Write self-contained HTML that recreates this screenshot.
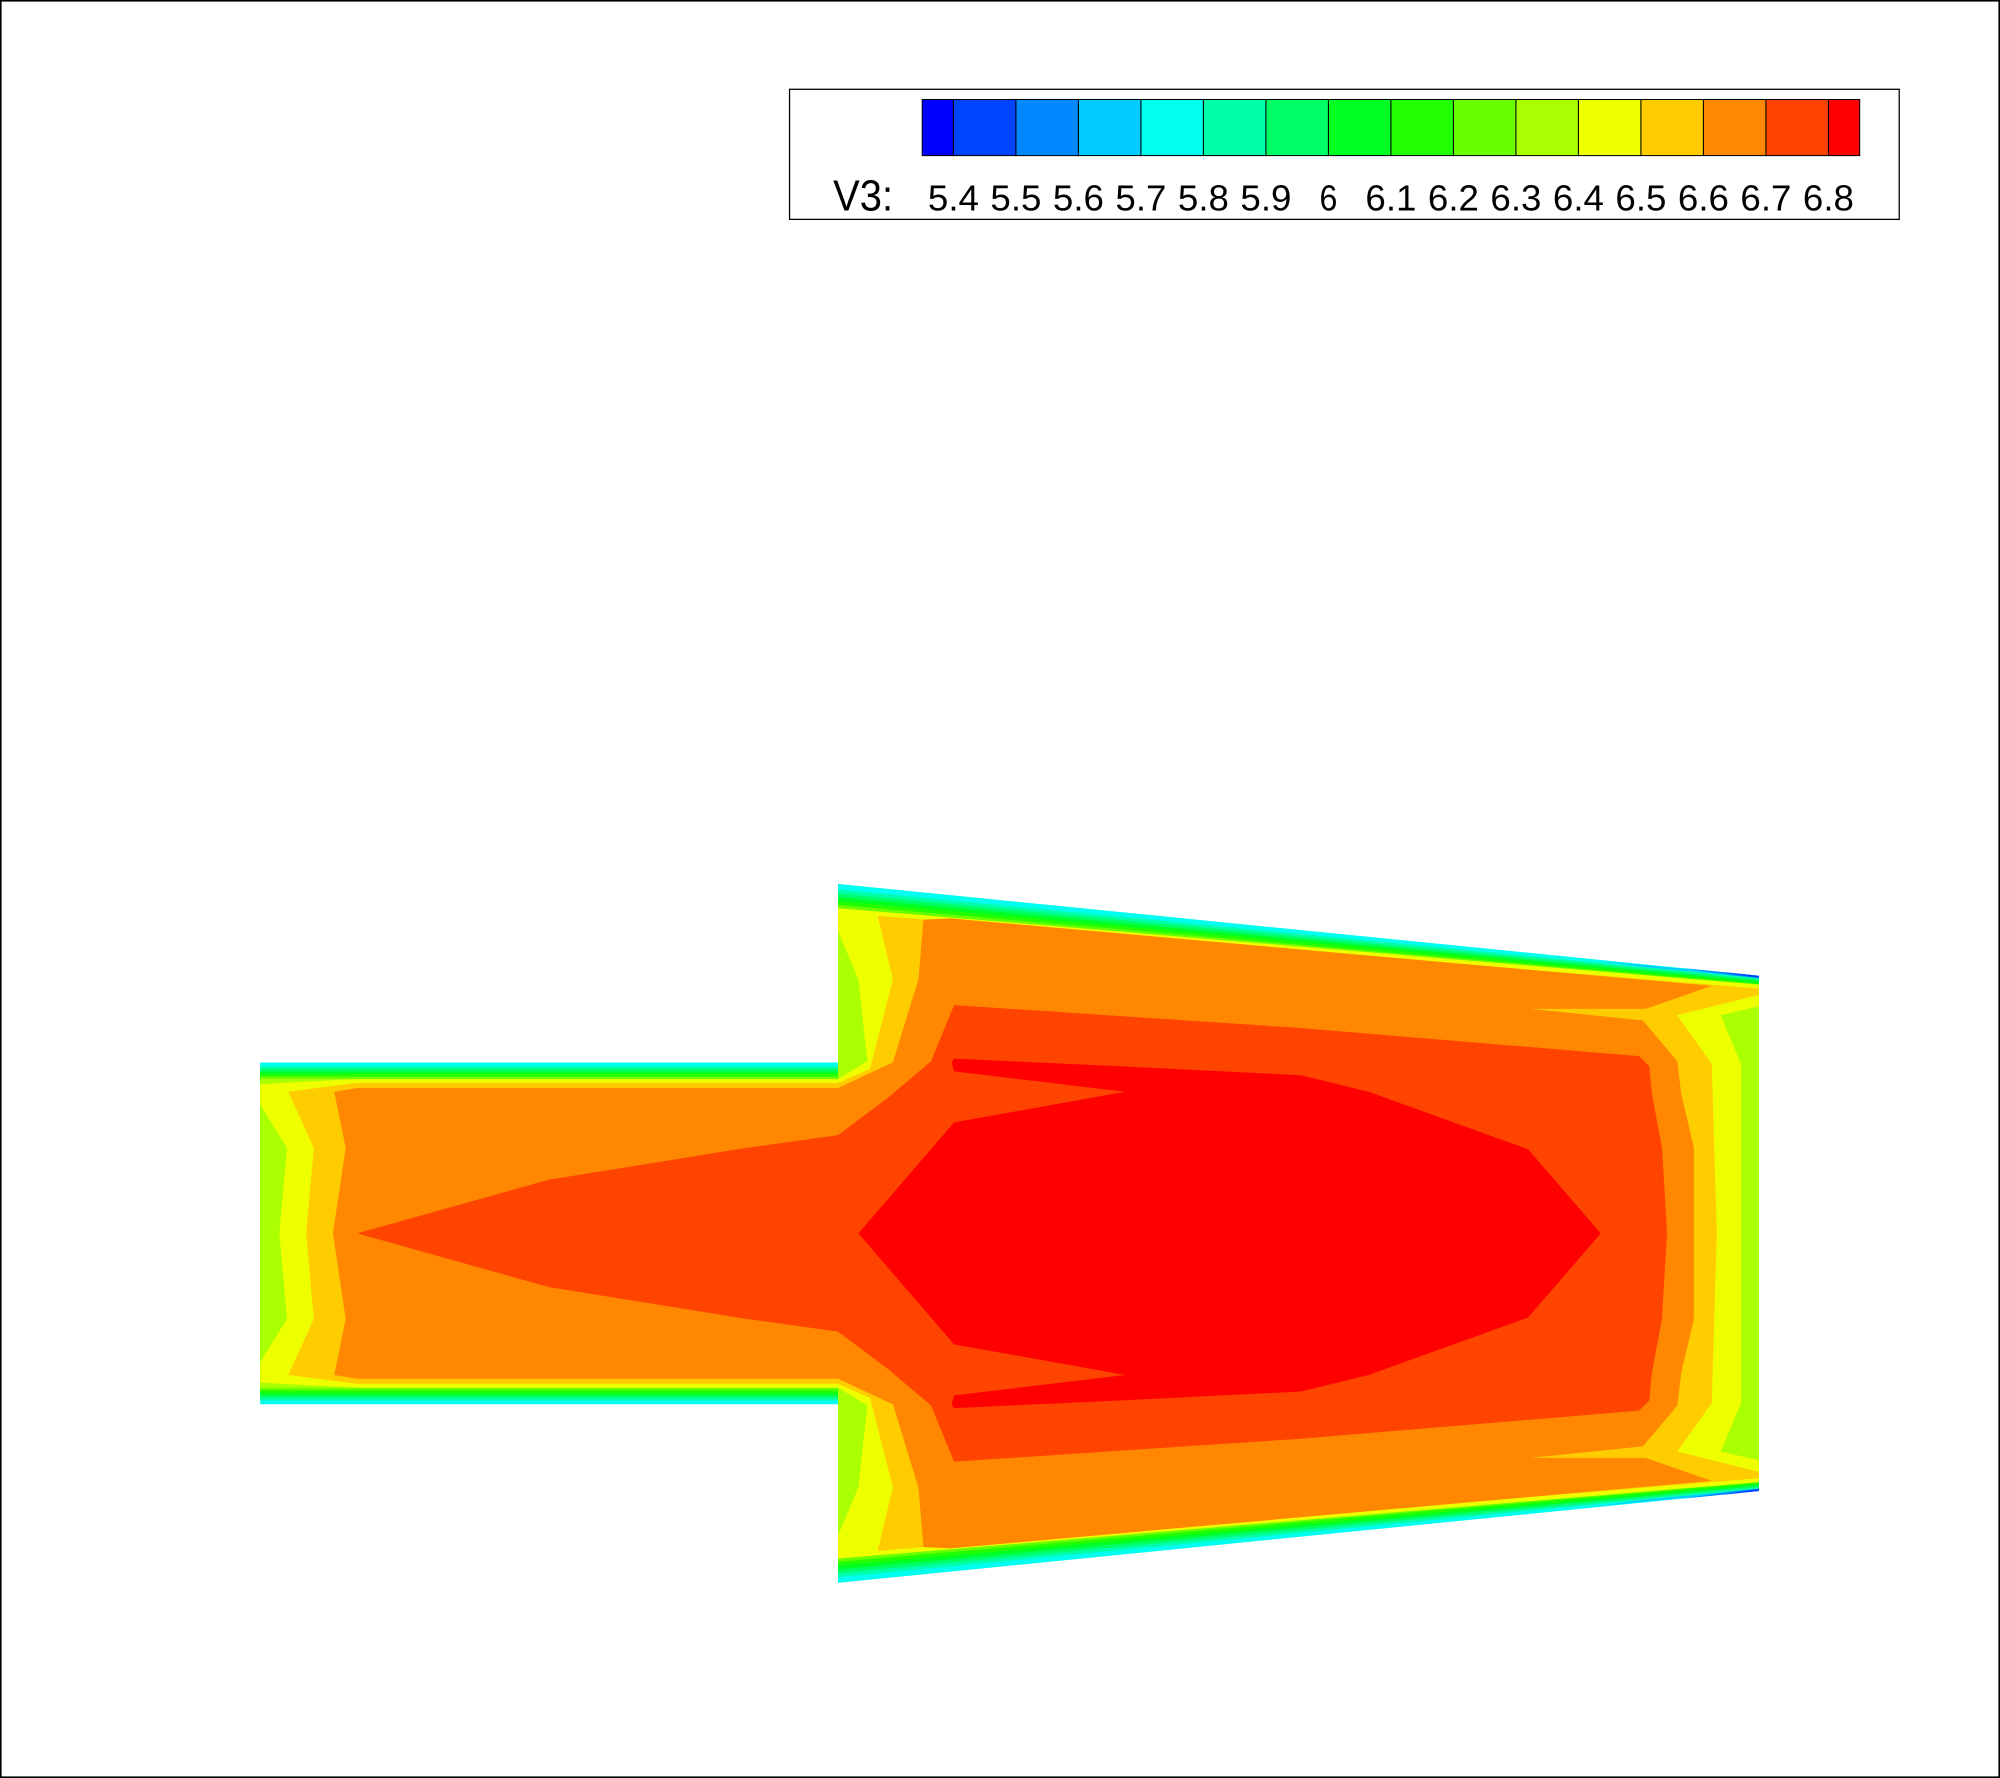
<!DOCTYPE html>
<html><head><meta charset="utf-8"><style>
html,body{margin:0;padding:0;background:#fff;}
svg{display:block;}
text{font-family:"Liberation Sans",Arial,sans-serif;}
</style></head><body>
<svg id="chart" xmlns="http://www.w3.org/2000/svg" width="2000" height="1778" viewBox="0 0 1568 1394" preserveAspectRatio="none">
<rect x="0.5" y="0.5" width="1567" height="1393" fill="#fff" stroke="#000" stroke-width="1.5"/>
<g id="field"></g>
<g id="legend">
<rect x="619" y="70" width="870" height="102" fill="#fff" stroke="#000" stroke-width="1"/>
<text x="653" y="165" font-size="34" transform="scale(0.92,1) translate(57,0)">V3:</text>
</g>
</svg>
<script>
const levels = ["5.4","5.5","5.6","5.7","5.8","5.9","6","6.1","6.2","6.3","6.4","6.5","6.6","6.7","6.8"];
const levelColors = ["#0000ff","#0044ff","#0088ff","#00ccff","#00ffee","#00ffaa","#00ff66","#00ff22","#22ff00","#6aff00","#aaff00","#eeff00","#ffcc00","#ff8800","#ff4400","#ff0000"];
const bandColors = ["#00ffee","#00ffaa","#00ff66","#00ff22","#22ff00","#6aff00","#aaff00"];
const bandOffsets = [0,1,2,3,4,5,6];
const yellowHalf = [[219,967],[225,900],[204,866],[204,850],[280,846],[657,846],[680,832],[673,768],[657,730],[657,712],[1379,772],[1379,789],[1349,796],[1365,834],[1365,967]];
const goldHalf = [[240,967],[246,900],[226,856],[280,849],[657,849],[682,838],[700,768],[688,718],[1379,775],[1379,780],[1315,796],[1342,834],[1346,967]];
const orangeHalf = [[261,967],[271,900],[262,856],[280,853],[657,853],[700,833],[720,768],[724,721],[745,720],[1342,773],[1290,791],[1200,791],[1288,800],[1315,832],[1318,857],[1328,900],[1328,967]];
const redOrangeHalf = [[280,967],[430,925],[585,900],[657,890],[697,860],[730,832],[748,788],[1020,806],[1285,828],[1293,836],[1295,857],[1303,900],[1307,967]];
const redHalf = [[673,967],[748,880],[882,856],[748,840],[746,833],[748,830],[878,836],[1020,843],[1073,856],[1198,901],[1255,967]];

const NS="http://www.w3.org/2000/svg";
const field=document.getElementById('field');
const legend=document.getElementById('legend');
const CY=967;
function full(half){
  const top=half.map(p=>p.join(','));
  const bot=half.slice().reverse().map(p=>p[0]+','+(2*CY-p[1]));
  return top.concat(bot).join(' ');
}
function poly(pts,color,name){
  const p=document.createElementNS(NS,'polygon');
  p.setAttribute('points',pts);
  p.setAttribute('fill',color);
  
  
  field.appendChild(p);
}
bandOffsets.forEach((k,i)=>{
  const s=i===0?0:k+0.5;
  const half=[[204,833+2*s],[657,833+2*s],[657,693+3*s],[1379,765+1.2*s],[1379,CY]];
  poly(full(half),bandColors[i],'contour-band-'+i);
  if(i===0){
    poly('1250,753 1379,765 1379,770',"#00ccff",'corner-band-top');
    poly('1320,759 1379,765 1379,768',"#0088ff",'corner-band-top-2');
    poly('1350,762 1379,765 1379,767',"#0044ff",'corner-band-top-3');
    poly('1250,1181 1379,1169 1379,1164',"#00ccff",'corner-band-bottom');
    poly('1320,1175 1379,1169 1379,1166',"#0088ff",'corner-band-bottom-2');
    poly('1350,1172 1379,1169 1379,1167',"#0044ff",'corner-band-bottom-3');
  }
});
poly(full(yellowHalf),levelColors[11],'contour-6-4');
poly(full(goldHalf),levelColors[12],'contour-6-5');
poly(full(orangeHalf),levelColors[13],'contour-6-6');
poly(full(redOrangeHalf),levelColors[14],'contour-6-7');
poly(full(redHalf),levelColors[15],'contour-6-8');

// legend
const x0=723, cw=49, by=78, bh=44;
let x=x0;
levelColors.forEach((c,i)=>{
  const w=(i===0||i===levelColors.length-1)?cw/2:cw;
  const r=document.createElementNS(NS,'rect');
  r.setAttribute('x',x);r.setAttribute('y',by);r.setAttribute('width',w);r.setAttribute('height',bh);
  r.setAttribute('fill',c);r.setAttribute('stroke','#000');r.setAttribute('stroke-width','0.8');
  
  
  legend.appendChild(r);
  x+=w;
});
levels.forEach((l,i)=>{
  const t=document.createElementNS(NS,'text');
  t.setAttribute('x',x0+cw/2+i*cw);t.setAttribute('y',165);
  t.setAttribute('font-size','28');t.setAttribute('text-anchor','middle');
  t.setAttribute('textLength', l.length>1?'40':'14');
  t.setAttribute('lengthAdjust','spacingAndGlyphs');
  t.textContent=l;
  
  
  legend.appendChild(t);
});
</script>
</body></html>
